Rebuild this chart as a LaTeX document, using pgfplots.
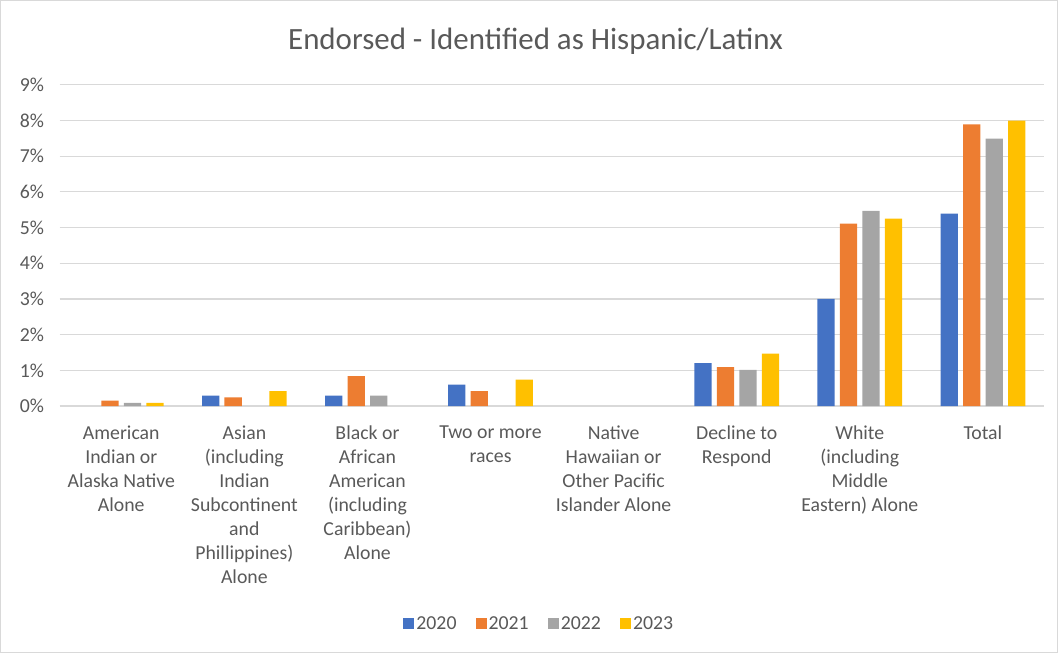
\documentclass[border=0pt]{standalone}
\usepackage{pgfplots}
\pgfplotsset{compat=1.18}
\usepackage{fontspec}
\setmainfont{Carlito}

\definecolor{c20}{HTML}{4472C4}
\definecolor{c21}{HTML}{ED7D31}
\definecolor{c22}{HTML}{A5A5A5}
\definecolor{c23}{HTML}{FFC000}
\definecolor{gridc}{HTML}{D9D9D9}
\definecolor{txt}{HTML}{595959}

\begin{document}
\begin{tikzpicture}
\begin{axis}[name=ax, scale only axis, width=981pt, height=320pt,
  ybar=5.2pt, bar width=17.2pt,
  xmin=-0.5, xmax=7.5, ymin=0, ymax=9,
  xtick={0,...,7}, ytick={0,...,9},
  yticklabels={0\%,1\%,2\%,3\%,4\%,5\%,6\%,7\%,8\%,9\%},
  xticklabels={{American\\Indian or\\Alaska Native\\Alone},
    {Asian\\(including\\Indian\\Subcontinent\\and\\Phillippines)\\Alone},
    {Black or\\African\\American\\(including\\Caribbean)\\Alone},
    {Two or more\\races},
    {Native\\Hawaiian or\\Other Pacific\\Islander Alone},
    {Decline to\\Respond},
    {White\\(including\\Middle\\Eastern) Alone},
    {Total}},
  major tick length=0pt,
  axis line style={draw=none},
  ymajorgrids, grid style={gridc, line width=1.2pt},
  tick label style={font=\fontsize{19.7}{24}\selectfont, text=txt},
  xticklabel style={align=center, yshift=-16pt},
  yticklabel style={xshift=-12pt},
  legend style={draw=none, at={(0.487,-0.678)}, anchor=center,
    font=\fontsize{19.7}{24}\selectfont, text=txt,
    /tikz/every even column/.append style={column sep=17pt}},
  legend columns=-1,
  legend image code/.code={\fill[#1] (0pt,-5.5pt) rectangle (11pt,5.5pt);},
  /pgf/number format/assume math mode=true,
]
% zero values are left out
\addplot[fill=c20, draw=none] coordinates {(1,0.29) (2,0.29) (3,0.60) (5,1.20) (6,3.00) (7,5.39)};
\addplot[fill=c21, draw=none] coordinates {(0,0.15) (1,0.24) (2,0.84) (3,0.42) (5,1.09) (6,5.11) (7,7.89)};
\addplot[fill=c22, draw=none] coordinates {(0,0.09) (2,0.29) (5,1.01) (6,5.47) (7,7.49)};
\addplot[fill=c23, draw=none] coordinates {(0,0.09) (1,0.42) (3,0.74) (5,1.47) (6,5.25) (7,8.00)};
\legend{2020,2021,2022,2023}
\end{axis}
\draw[gridc, line width=1pt] ([xshift=-59pt,yshift=-246pt]ax.south west) rectangle ([xshift=13pt,yshift=84pt]ax.north east);
\path ([xshift=474pt,yshift=43pt]ax.north west) node[font=\fontsize{30.8}{36}\selectfont, text=txt] {Endorsed - Identified as Hispanic/Latinx};
\end{tikzpicture}
\end{document}
